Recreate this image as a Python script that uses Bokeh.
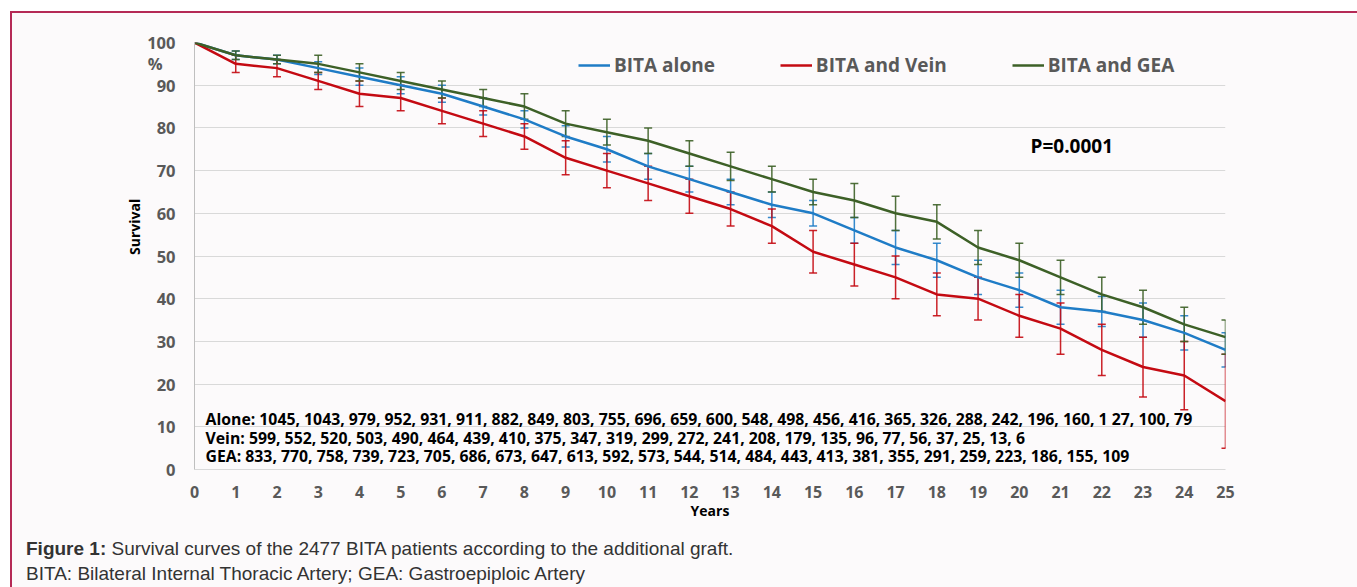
from bokeh.plotting import figure
from bokeh.layouts import column
from bokeh.models import (ColumnDataSource, Whisker, TeeHead, Legend, LegendItem, Label, Range1d,
                          FixedTicker, Div)
from bokeh.embed import file_html
from bokeh.resources import INLINE

years = list(range(26))
alone = [100, 97, 96, 94, 92, 90, 88, 85, 82, 78, 75, 71, 68, 65, 62, 60, 56, 52, 49, 45, 42, 38, 37, 35, 32, 28]
vein = [100, 95, 94, 91, 88, 87, 84, 81, 78, 73, 70, 67, 64, 61, 57, 51, 48, 45, 41, 40, 36, 33, 28, 24, 22, 16]
gea = [100, 97, 96, 95, 93, 91, 89, 87, 85, 81, 79, 77, 74, 71, 68, 65, 63, 60, 58, 52, 49, 45, 41, 38, 34, 31]

# error half-widths for years 1..25
alone_err = [1, 1, 1.5, 2, 2, 2, 2, 2, 2.5, 3, 3, 3, 3, 3, 3, 3, 4, 4, 4, 4, 4, 3.5, 4, 4, 4]
vein_err = [2, 2, 2, 3, 3, 3, 3, 3, 4, 4, 4, 4, 4, 4, 5, 5, 5, 5, 5, 5, 6, 6, 7, 8, 11]
gea_err = [1, 1, 2, 2, 2, 2, 2, 3, 3, 3, 3, 3, 3.3, 3, 3, 4, 4, 4, 4, 4, 4, 4, 4, 4, 4]

alone_n = ["1045", "1043", "979", "952", "931", "911", "882", "849", "803", "755", "696", "659", "600",
           "548", "498", "456", "416", "365", "326", "288", "242", "196", "160", "1 27", "100", "79"]
vein_n = ["599", "552", "520", "503", "490", "464", "439", "410", "375", "347", "319", "299", "272",
          "241", "208", "179", "135", "96", "77", "56", "37", "25", "13", "6"]
gea_n = ["833", "770", "758", "739", "723", "705", "686", "673", "647", "613", "592", "573", "544",
         "514", "484", "443", "413", "381", "355", "291", "259", "223", "186", "155", "109"]

y_ticks = list(range(0, 101, 10))
series_names = ["BITA alone", "BITA and Vein", "BITA and GEA"]
colors = ["#1f7cc6", "#c40a12", "#3d6027"]
p_text = "P=0.0001"
caption_bold = "Figure 1:"
caption_1 = "Survival curves of the 2477 BITA patients according to the additional graft."
caption_2 = "BITA: Bilateral Internal Thoracic Artery; GEA: Gastroepiploic Artery"

FONT = "Open Sans"
BG = "#fcfafb"

p = figure(width=1345, height=518, x_range=Range1d(0, 25), y_range=Range1d(0, 100),
           output_backend="svg", toolbar_location=None,
           min_border_left=182, min_border_right=132, min_border_top=29, min_border_bottom=62,
           background_fill_color=BG, border_fill_color=BG)
p.outline_line_color = None

p.xgrid.visible = False
p.ygrid.ticker = FixedTicker(ticks=y_ticks)
p.ygrid.grid_line_color = "#d9d9d9"
p.ygrid.grid_line_width = 1

p.xaxis.ticker = FixedTicker(ticks=years)
p.yaxis.ticker = FixedTicker(ticks=y_ticks + [95])
p.yaxis.major_label_overrides = {95: "%\u00a0\u00a0\u00a0"}
for ax in (p.xaxis, p.yaxis):
    ax.major_tick_line_color = None
    ax.minor_tick_line_color = None
    ax.major_tick_out = 0
    ax.major_tick_in = 0
    ax.minor_tick_out = 0
    ax.major_label_text_font = FONT
    ax.major_label_text_font_style = "bold"
    ax.major_label_text_color = "#595959"
    ax.axis_label_text_font = FONT
    ax.axis_label_text_font_style = "bold"
    ax.axis_label_text_font_size = "14px"
    ax.axis_label_text_color = "#000000"
p.yaxis.major_label_text_font_size = "16.5px"
p.xaxis.major_label_text_font_size = "16px"
p.yaxis.axis_line_color = "#bfbfbf"
p.xaxis.axis_line_color = "#d9d9d9"
p.yaxis.major_label_standoff = 19
p.xaxis.major_label_standoff = 16
p.xaxis.axis_label = "Years"
p.xaxis.axis_label_standoff = 0
p.yaxis.axis_label_standoff = 0
# leading no-break spaces lift the centred word towards the upper half, as in the original
p.yaxis.axis_label = "\u00a0" * 16 + "Survival"

for vals, errs, col in zip([alone, vein, gea], [alone_err, vein_err, gea_err], colors):
    src = ColumnDataSource(dict(x=years[1:], upper=[v + e for v, e in zip(vals[1:], errs)],
                                lower=[v - e for v, e in zip(vals[1:], errs)]))
    w = Whisker(source=src, base="x", upper="upper", lower="lower", line_color=col, line_width=1.5,
                line_alpha=0.9,
                upper_head=TeeHead(size=8, line_color=col, line_width=1.5, line_alpha=0.9),
                lower_head=TeeHead(size=8, line_color=col, line_width=1.5, line_alpha=0.9))
    p.add_layout(w)

items = []
for name, vals, col in zip(series_names, [alone, vein, gea], colors):
    r = p.line(years, vals, line_color=col, line_width=2.5)
    items.append(LegendItem(label=name, renderers=[r]))

legend = Legend(items=items, location=(384, 391), orientation="horizontal", spacing=65,
                glyph_width=32, glyph_height=20, label_standoff=4, padding=0, margin=0,
                background_fill_alpha=0, border_line_alpha=0,
                label_text_font=FONT, label_text_font_style="bold", label_text_font_size="19px",
                label_text_color="#595959", label_height=20)
p.add_layout(legend)


def lab(text, x, y, size="14px", style="bold", color="#000000", font=FONT, align="left"):
    p.add_layout(Label(x=x, y=y, x_units="screen", y_units="screen", text=text,
                       text_font=font, text_font_style=style, text_font_size=size,
                       text_color=color, text_baseline="middle", text_align=align))


lab(p_text, 836, 324, size="19px")
lab("Alone: " + ", ".join(alone_n), 11, 51, size="15.8px")
lab("Vein: " + ", ".join(vein_n), 11, 32, size="15.8px")
lab("GEA: " + ", ".join(gea_n), 11, 14, size="15.8px")

cap = Div(text=(f'<div style="padding:0 0 0 9px; font-family:\'Liberation Sans\', Arial, sans-serif; '
                f'font-size:19px; line-height:25px; color:#333333; white-space:nowrap;">'
                f'<b>{caption_bold}</b> {caption_1}<br>{caption_2}</div>'),
          width=1345, height=54, styles={"background-color": BG})

layout = column(p, cap, spacing=0,
                styles={"border-top": "2px solid #b52a56", "border-left": "2px solid #b52a56",
                        "border-right": "none", "border-bottom": "none",
                        "margin-left": "10px", "margin-top": "11px", "background-color": BG})

open("out.html", "w").write(file_html(layout, INLINE))
